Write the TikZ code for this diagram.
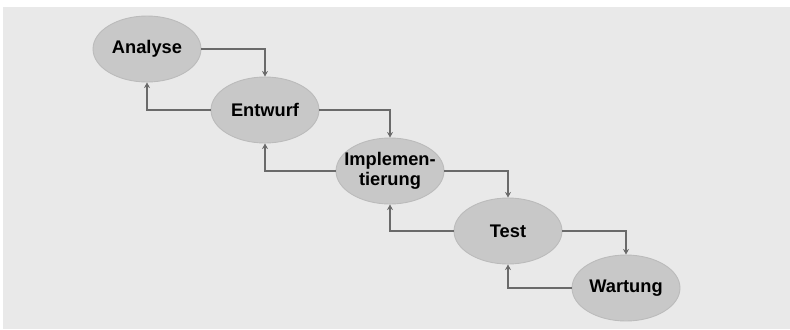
\documentclass[tikz,border=0pt]{standalone}
\usepackage{fontspec}
\setmainfont{Liberation Sans}
\usepackage{xcolor}
\usepackage{tikz}
\usetikzlibrary{shapes.geometric,arrows.meta}
\definecolor{paper}{HTML}{E9E9E9}
\definecolor{bubble}{HTML}{C8C8C8}
\definecolor{rim}{HTML}{BBBBBB}
\definecolor{wire}{HTML}{6A6A6A}
\tikzset{
  phase/.style={ellipse,fill=bubble,draw=rim,line width=0.5pt,
    minimum width=2.16cm,minimum height=1.32cm,inner sep=0pt,align=center,
    font=\fontsize{10.4}{11.6}\selectfont\bfseries},
  flow/.style={wire,line width=0.6pt,-{Stealth[length=3.2pt,width=3.4pt]}}
}

\begin{document}
\begin{tikzpicture}[x=0.02cm,y=-0.02cm]
    \useasboundingbox (0,0) rectangle (790,329);
    \fill[paper] (3,7) rectangle (790,329);
    % phases
    \node[phase] (ana) at (147,49) {Analyse};
    \node[phase] (ent) at (265,110) {Entwurf};
    \node[phase,inner xsep=-9pt,inner ysep=-4pt] (imp) at (390,171) {Implemen-\\tierung};
    \node[phase] (tst) at (508,231) {Test};
    \node[phase] (war) at (626,288) {Wartung};
    % downward steps
    \draw[flow] (ana.east) -| (ent.north);
    \draw[flow] (ent.east) -| (imp.north);
    \draw[flow] (imp.east) -| (tst.north);
    \draw[flow] (tst.east) -| (war.north);
    % steps back
    \draw[flow] (ent.west) -| (ana.south);
    \draw[flow] (imp.west) -| (ent.south);
    \draw[flow] (tst.west) -| (imp.south);
    \draw[flow] (war.west) -| (tst.south);
  \end{tikzpicture}
\end{document}
